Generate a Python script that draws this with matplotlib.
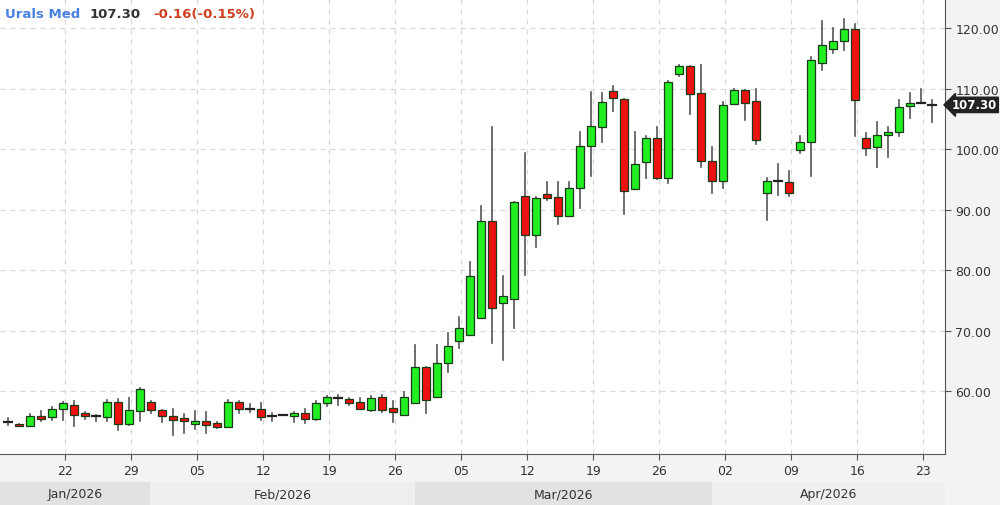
import matplotlib
matplotlib.use("Agg")
import matplotlib.pyplot as plt
from matplotlib.patches import Rectangle

opens = [54.9,54.5,54.3,55.9,55.65,57.0,57.7,56.4,55.8,55.65,58.2,54.55,56.75,58.2,56.85,55.9,55.5,54.55,55.05,54.8,
         54.1,58.2,57.0,57.0,55.8,56.1,55.9,56.35,55.4,58.0,58.8,58.7,58.2,56.9,58.95,57.2,56.0,58.0,63.9,58.95,
         64.7,68.3,69.2,72.0,88.15,74.55,75.2,92.3,85.85,92.5,92.0,89.0,93.55,100.55,103.6,109.6,108.3,93.4,97.9,101.9,
         95.15,112.4,113.65,109.25,98.1,94.65,107.4,109.75,107.9,92.7,94.65,94.5,99.9,101.1,114.2,116.6,117.8,119.8,101.9,100.4,
         102.4,102.9,107.1,107.6,107.45]
closes = [54.9,54.3,55.9,55.4,57.0,58.0,56.1,55.8,55.8,58.2,54.55,56.85,60.3,56.85,55.9,55.3,55.05,55.1,54.4,54.1,
          58.2,57.1,57.0,55.65,55.8,56.0,56.35,55.4,58.0,58.95,58.8,58.0,57.0,58.8,56.9,56.6,59.1,63.9,58.6,64.7,
          67.5,70.5,79.1,88.15,73.8,75.65,91.3,85.85,91.85,91.95,88.9,93.55,100.55,103.75,107.8,108.4,93.1,97.6,101.9,95.15,
          111.0,113.65,109.1,98.1,94.65,107.2,109.75,107.6,101.5,94.65,94.65,92.7,101.1,114.75,117.2,117.8,119.8,108.15,100.2,102.4,
          102.9,106.9,107.6,107.6,107.3]
highs = [55.5,54.5,56.2,56.7,57.3,58.2,58.3,56.6,56.1,58.6,58.7,58.9,60.55,58.4,56.9,57.0,56.2,56.75,56.5,54.9,
         58.5,58.3,57.85,58.0,56.3,56.1,56.5,57.0,58.4,59.2,59.3,58.8,58.9,59.2,59.3,58.4,59.9,67.6,63.9,67.6,
         69.6,72.3,81.4,90.6,103.6,79.1,91.3,99.3,92.0,94.5,94.5,94.5,102.9,109.5,109.3,110.5,108.3,102.8,102.1,103.6,
         111.3,113.9,113.8,113.9,100.4,107.7,110.0,109.8,110.0,95.15,97.5,96.3,102.1,115.15,121.2,119.95,121.5,120.65,102.6,104.5,
         103.6,108.15,109.25,109.9,108.15]
lows = [54.4,54.2,54.3,55.1,55.2,55.3,54.3,55.4,55.0,55.0,53.6,54.4,55.0,56.4,54.9,52.7,53.1,53.8,53.0,53.9,
        54.0,56.4,56.6,55.3,55.0,56.0,54.9,54.7,55.3,57.6,57.7,57.7,57.0,56.7,56.5,54.9,56.0,58.0,56.4,59.0,
        63.2,67.2,69.2,72.0,67.9,65.2,70.4,79.2,83.75,91.5,87.6,89.0,90.25,95.6,101.2,106.3,89.2,93.4,95.2,95.1,
        94.4,112.0,105.8,97.1,92.8,93.55,108.0,104.85,100.8,88.3,92.45,92.2,99.3,95.6,113.1,115.8,116.4,102.1,99.0,97.1,
        98.7,102.2,105.1,107.6,104.4]

week_labels = ["22","29","05","12","19","26","05","12","19","26","02","09","16","23"]
month_labels = ["Jan/2026","Feb/2026","Mar/2026","Apr/2026"]
month_edges = [-0.73, 12.9, 37.0, 64.0, 85.18]
y_ticks = [60,70,80,90,100,110,120]
last_price = 107.30

fig = plt.figure(figsize=(10, 5.06), dpi=100)
fig.patch.set_facecolor("#f3f3f3")
ax = fig.add_axes([0, 0.1008, 0.945, 0.8992])
ax.set_facecolor("white")
ax.set_xlim(-0.73, 85.18)
ax.set_ylim(49.6, 124.8)

tick_pos = [5.2 + 6*k for k in range(len(week_labels))]
for t in tick_pos:
    ax.axvline(t, color="#d8d8d8", ls=(0, (4, 4)), lw=0.9, zorder=0)
for y in y_ticks:
    ax.axhline(y, color="#d8d8d8", ls=(0, (4, 4)), lw=0.9, zorder=0)

w = 0.72
for i, (o, c, h, l) in enumerate(zip(opens, closes, highs, lows)):
    ax.plot([i, i], [l, h], color="#555555", lw=1.2, zorder=1)
    lo, hi = min(o, c), max(o, c)
    if abs(c - o) < 0.2:
        ax.plot([i - w/2, i + w/2], [c, c], color="#222222", lw=1.6, zorder=2)
        continue
    col = "#22ee22" if c > o else "#ee1111"
    ax.add_patch(Rectangle((i - w/2, lo), w, hi - lo, facecolor=col,
                           edgecolor="#1a3a1a", lw=0.9, zorder=2))

ax.set_xticks(tick_pos)
ax.set_xticklabels(week_labels, fontsize=9, color="#333333")
ax.yaxis.tick_right()
ax.set_yticks(y_ticks)
ax.set_yticklabels([f"{v:.2f}" for v in y_ticks], fontsize=9, color="#333333")
ax.tick_params(axis="both", length=4, color="#555555")
for s in ["top", "left"]:
    ax.spines[s].set_visible(False)
ax.spines["right"].set_color("#555555")
ax.spines["bottom"].set_color("#555555")

ax.annotate(f"{last_price:.2f}", xy=(1.0, last_price), xycoords=("axes fraction", "data"),
            xytext=(5, 0), textcoords="offset points", va="center", ha="left",
            fontsize=8.5, color="white", fontweight="bold",
            bbox=dict(boxstyle="larrow,pad=0.1", fc="#222222", ec="#222222"),
            annotation_clip=False)

fig.text(0.005, 0.972, "Urals Med", color="#4a80e0", fontsize=9.5, fontweight="bold", va="center")
fig.text(0.09, 0.972, "107.30", color="#333333", fontsize=9.5, fontweight="bold", va="center")
fig.text(0.153, 0.972, "-0.16(-0.15%)", color="#d04020", fontsize=9.5, fontweight="bold", va="center")

band = fig.add_axes([0, 0, 0.945, 0.045])
band.set_xlim(-0.73, 85.18)
band.set_ylim(0, 1)
band.axis("off")
cols = ["#e2e2e2", "#efefef", "#e2e2e2", "#efefef"]
for k, lab in enumerate(month_labels):
    a, b = month_edges[k], month_edges[k+1]
    band.add_patch(Rectangle((a, 0), b - a, 1, facecolor=cols[k], edgecolor="none"))
    band.text((a + b)/2, 0.5, lab, ha="center", va="center", fontsize=9, color="#333333")

fig.savefig("out.png", dpi=100, facecolor=fig.get_facecolor())
